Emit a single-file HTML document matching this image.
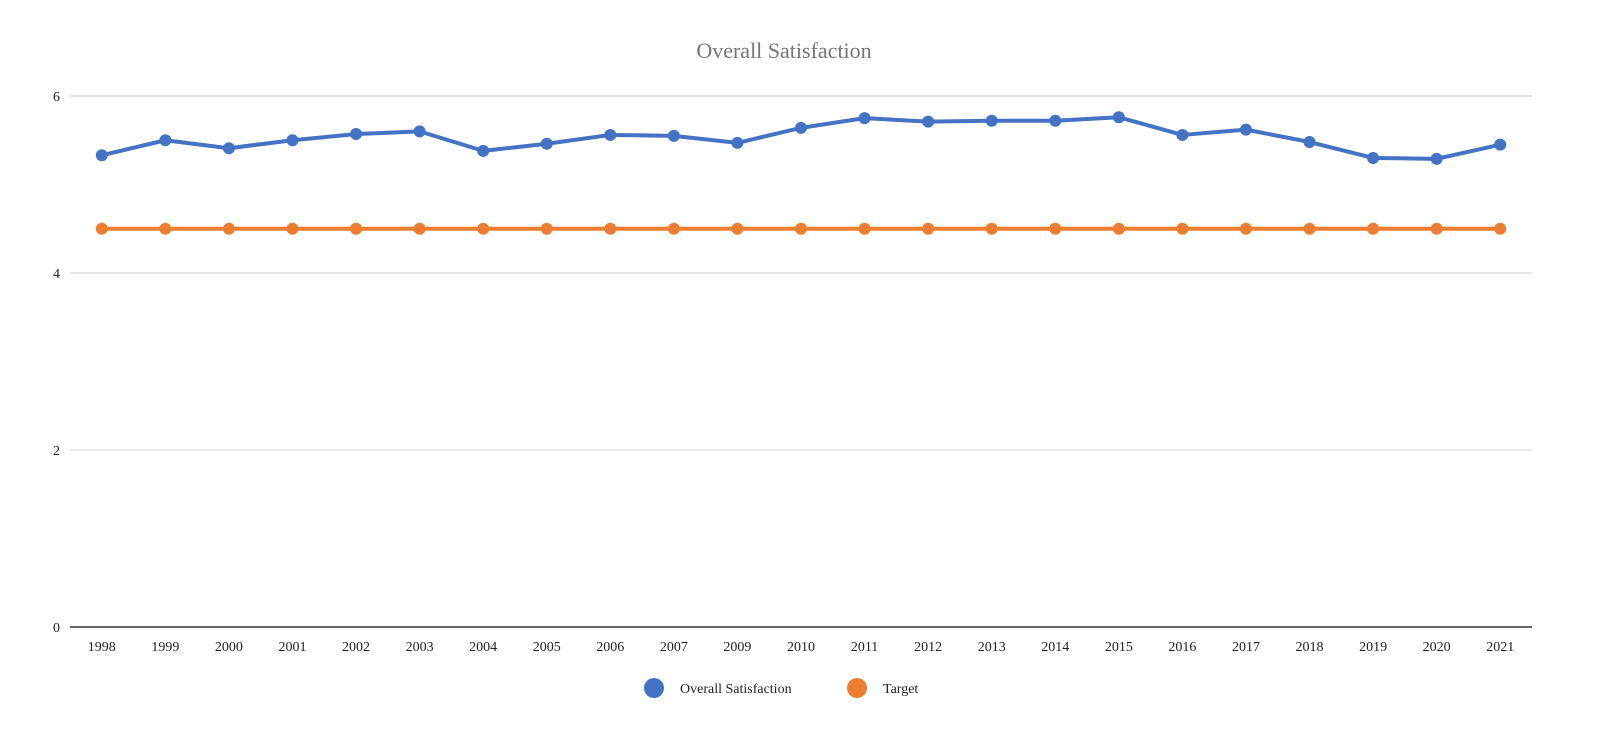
<!DOCTYPE html>
<html><head><meta charset="utf-8"><style>
html,body{margin:0;padding:0;background:#fff;}
svg{display:block;font-family:"Liberation Serif",serif;}
</style></head><body>
<svg id="chart" width="1600" height="752" xmlns="http://www.w3.org/2000/svg">
<text x="784" y="58" text-anchor="middle" font-size="22" fill="#757575">Overall Satisfaction</text>
<g id="grid"></g><g id="xaxis"></g><g id="series"></g>
<g>
<g><circle cx="654" cy="688" r="10" fill="#4472c4"/><text x="680" y="693" font-size="14" fill="#222">Overall Satisfaction</text></g>
<g><circle cx="857" cy="688" r="10" fill="#ed7d31"/><text x="883" y="693" font-size="14" fill="#222">Target</text></g>
</g>
</svg>
<script>
const categories=["1998","1999","2000","2001","2002","2003","2004","2005","2006","2007","2009","2010","2011","2012","2013","2014","2015","2016","2017","2018","2019","2020","2021"];
const overall=[5.33,5.50,5.41,5.50,5.57,5.60,5.38,5.46,5.56,5.55,5.47,5.64,5.75,5.71,5.72,5.72,5.76,5.56,5.62,5.48,5.30,5.29,5.45];
const target=[4.5,4.5,4.5,4.5,4.5,4.5,4.5,4.5,4.5,4.5,4.5,4.5,4.5,4.5,4.5,4.5,4.5,4.5,4.5,4.5,4.5,4.5,4.5];
const yTicks=[0,2,4,6];
const L=70,R=1532,T=96,B=627,YMAX=6;
const NS="http://www.w3.org/2000/svg";
const band=(R-L)/categories.length;
const x=i=>L+band*(i+0.5);
const y=v=>B-(v/YMAX)*(B-T);
function mk(t,a,p){const e=document.createElementNS(NS,t);for(const k in a)e.setAttribute(k,a[k]);p.appendChild(e);return e;}
const grid=document.getElementById('grid');
yTicks.forEach(v=>{
 const ln=mk('line',{x1:L,x2:R,y1:y(v),y2:y(v),stroke:v===0?'#333':'#ccc','stroke-width':v===0?1.5:1},grid);
 
 
 const t=mk('text',{x:L-10,y:y(v)+5,'text-anchor':'end','font-size':14,fill:'#222'},grid);
 t.textContent=v;
 
 
});
const xa=document.getElementById('xaxis');
categories.forEach((c,i)=>{
 const t=mk('text',{x:x(i),y:651,'text-anchor':'middle','font-size':14,fill:'#222'},xa);
 t.textContent=c;
 
 
});
const sg=document.getElementById('series');
function series(vals,color,name){
 const g=mk('g',{},sg);
 
 
 const p=mk('polyline',{points:vals.map((v,i)=>x(i)+','+y(v)).join(' '),fill:'none',stroke:color,'stroke-width':4,'stroke-linejoin':'round'},g);
 
 
 vals.forEach((v,i)=>{
  const c=mk('circle',{cx:x(i),cy:y(v),r:6,fill:color},g);
  
  
 });
}
series(target,'#ed7d31','target');
series(overall,'#4472c4','overall-satisfaction');
</script>
</body></html>
